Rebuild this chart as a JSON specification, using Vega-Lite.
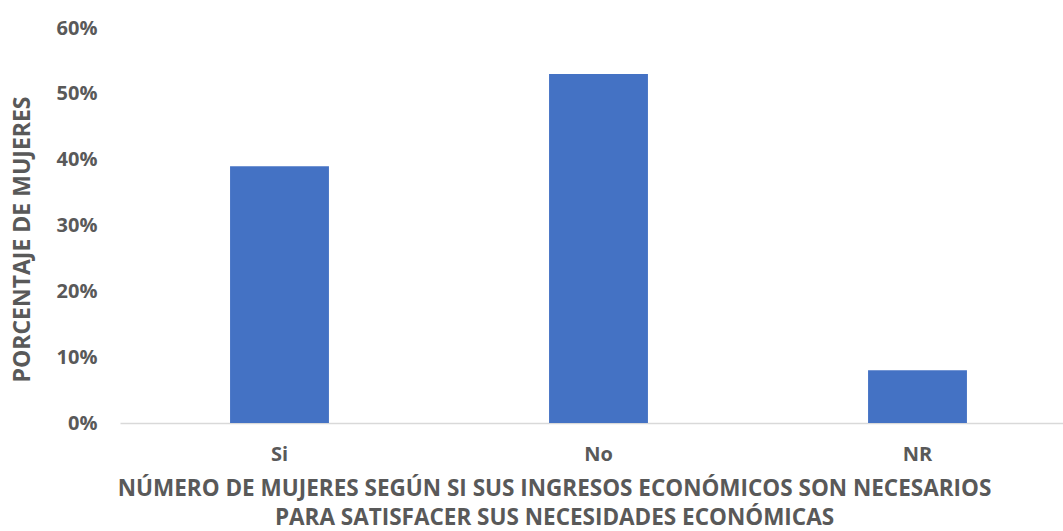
{
  "$schema": "https://vega.github.io/schema/vega-lite/v6.json",
  "autosize": "none",
  "width": 957,
  "height": 395,
  "padding": {"left": 120, "top": 28, "right": 0, "bottom": 108},
  "background": "white",
  "data": {
    "values": [
      {"respuesta": "Si", "porcentaje": 0.39},
      {"respuesta": "No", "porcentaje": 0.53},
      {"respuesta": "NR", "porcentaje": 0.08}
    ]
  },
  "mark": {"type": "bar", "color": "#4472C4"},
  "encoding": {
    "x": {
      "field": "respuesta",
      "type": "nominal",
      "sort": ["Si", "No", "NR"],
      "scale": {"paddingInner": 0.69, "paddingOuter": 0.345},
      "axis": {
        "title": ["NÚMERO DE MUJERES SEGÚN SI SUS INGRESOS ECONÓMICOS SON NECESARIOS", "PARA SATISFACER SUS NECESIDADES ECONÓMICAS"],
        "labelAngle": 0,
        "ticks": false,
        "domainColor": "#d9d9d9",
        "domainWidth": 1.5,
        "labelPadding": 31,
        "labelBaseline": "middle",
        "labelFont": "Open Sans",
        "labelFontSize": 20,
        "labelFontWeight": "bold",
        "labelColor": "#595959",
        "titleFont": "Open Sans",
        "titleFontSize": 22.5,
        "titleFontWeight": "bold",
        "titleColor": "#595959",
        "titleX": 434,
        "titleY": 65,
        "titleAlign": "center",
        "titleBaseline": "middle",
        "titleLineHeight": 29
      }
    },
    "y": {
      "field": "porcentaje",
      "type": "quantitative",
      "scale": {"domain": [0, 0.6]},
      "axis": {
        "title": "PORCENTAJE DE MUJERES",
        "format": ".0%",
        "values": [0, 0.1, 0.2, 0.3, 0.4, 0.5, 0.6],
        "grid": false,
        "domain": false,
        "ticks": false,
        "labelPadding": 23,
        "labelFont": "Open Sans",
        "labelFontSize": 20,
        "labelFontWeight": "bold",
        "labelColor": "#595959",
        "titleFont": "Open Sans",
        "titleFontSize": 23,
        "titleFontWeight": "bold",
        "titleColor": "#595959",
        "titleX": -98,
        "titleY": 211,
        "titleAngle": -90,
        "titleAlign": "center",
        "titleBaseline": "middle"
      }
    }
  },
  "config": {"view": {"stroke": null}}
}
